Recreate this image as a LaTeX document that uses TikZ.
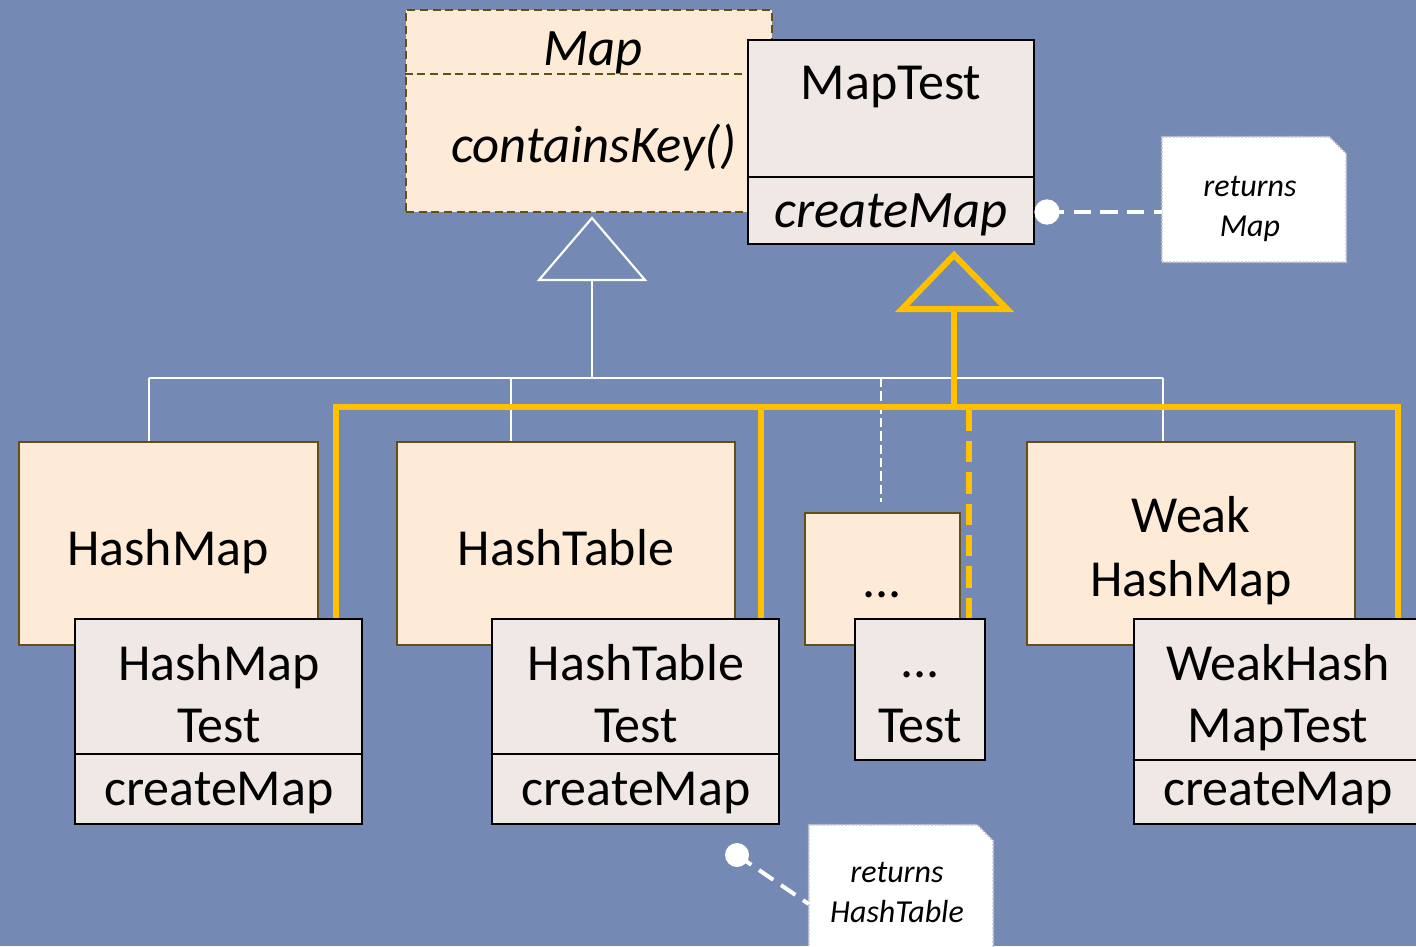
\documentclass[tikz,border=0pt]{standalone}
\usepackage{fontspec}
\setmainfont{Carlito}
\usetikzlibrary{fit,backgrounds}
\definecolor{bg}{RGB}{116,137,179}
\definecolor{beige}{RGB}{253,235,215}
\definecolor{brownb}{RGB}{100,80,20}
\definecolor{testfill}{RGB}{240,232,229}
\definecolor{uyellow}{RGB}{255,192,0}
\definecolor{notegray}{RGB}{190,192,200}
\begin{document}
\begin{tikzpicture}[x=0.75pt,y=-0.75pt,
  cls/.style={draw=brownb, fill=beige, line width=1.6pt, inner sep=0pt},
  tst/.style={draw=black, fill=testfill, line width=2pt, inner sep=0pt},
  big/.style={font=\fontsize{39}{47}\selectfont, inner sep=0pt, anchor=base},
  bigit/.style={font=\itshape\fontsize{39.5}{47}\selectfont, inner sep=0pt, anchor=base},
  ntxt/.style={font=\itshape\fontsize{24}{29}\selectfont, inner sep=0pt, anchor=base},
  wline/.style={draw=white, line width=1.6pt},
  yline/.style={draw=uyellow, line width=4.5pt},
  holder/.style={inner sep=0pt, draw=none},
  notebox/.style={draw=notegray, dash pattern=on 1.5pt off 1.2pt, line width=1.2pt, fill=white},
  notelink/.style={draw=white, line width=3pt, dash pattern=on 13pt off 7pt},
  dotend/.style={circle, fill=white, inner sep=0pt, minimum size=19pt},
  divline/.style={draw=black, line width=2pt},
]
\useasboundingbox (0,0) rectangle (1416,946);
\clip (0,0) rectangle (1416,946);
\begin{scope}[on background layer]
  \fill[bg] (0,0) rectangle (1416,946);
\end{scope}

% ---- interface Map ----
\node[cls, line width=1.8pt, dash pattern=on 6pt off 3.5pt, fit={(406,10) (772,212)}] (map) {};
\coordinate (mapdiv) at (0,74);
\draw[draw=brownb, line width=1.8pt, dash pattern=on 6pt off 3.5pt] (map.west |- mapdiv) -- (map.east |- mapdiv);
\node[bigit] (mapname) at (593,65) {Map};
\node[bigit] (mapop) at (594,162) {containsKey()};

% ---- MapTest ----
\node[tst, fit={(748,40) (1034,244)}] (mt) {};
\coordinate (mtdiv) at (0,177);
\draw[divline] (mt.west |- mtdiv) -- (mt.east |- mtdiv);
\node[big] (mtname) at (891,99) {MapTest};
\node[bigit] (mtop) at (891,227) {createMap};

% ---- implementation classes ----
\node[cls, fit={(19,442) (318,645)}] (hm) {};
\node[big] (hmname) at (168,565) {HashMap};
\node[cls, fit={(397,442) (735,645)}] (ht) {};
\node[big] (htname) at (566,565) {HashTable};
\node[cls, fit={(805,513) (960,645)}] (dc) {};
\node[big] (dcname) at (882,597) {...};
\node[cls, fit={(1027,442) (1355,645)}] (whm) {};
\node[big] (whmname1) at (1191,532) {Weak};
\node[big] (whmname2) at (1191,596) {HashMap};

% ---- test classes ----
\node[tst, fit={(75,619) (362,824)}] (hmt) {};
\coordinate (hmtdiv) at (0,754);
\draw[divline] (hmt.west |- hmtdiv) -- (hmt.east |- hmtdiv);
\node[big] (hmt1) at (219,680) {HashMap};
\node[big] (hmt2) at (219,742) {Test};
\node[big] (hmtop) at (219,805) {createMap};

\node[tst, fit={(492,619) (779,824)}] (htt) {};
\draw[divline] (htt.west |- hmtdiv) -- (htt.east |- hmtdiv);
\node[big] (htt1) at (636,680) {HashTable};
\node[big] (htt2) at (636,742) {Test};
\node[big] (httop) at (636,805) {createMap};

\node[tst, fit={(855,619) (985,760)}] (dt) {};
\node[big] (dt1) at (920,677) {...};
\node[big] (dt2) at (920,742) {Test};

\node[tst, fit={(1134,619) (1422,824)}] (wht) {};
\coordinate (whtdiv) at (0,760);
\draw[divline] (wht.west |- whtdiv) -- (wht.east |- whtdiv);
\node[big] (wht1) at (1278,680) {WeakHash};
\node[big] (wht2) at (1278,742) {MapTest};
\node[big] (whtop) at (1278,805) {createMap};

% ---- white inheritance tree (implements Map) ----
\coordinate (wtip) at (592,218);
\coordinate (wbl) at (539,280);
\coordinate (wbr) at (645,280);
\coordinate (wbase) at (592,280);
\coordinate (wj) at (592,378);
\coordinate (wL) at (149,378);
\coordinate (wR) at (1163,378);
\coordinate (wH) at (511,378);
\coordinate (wD) at (881,378);
\begin{scope}[on background layer]
  \draw[wline, line join=miter] (wtip) -- (wbr) -- (wbl) -- cycle;
  \draw[wline] (wbase) -- (wj);
  \draw[wline] (wL) -- (wR);
  \draw[wline] (wL) -- (wL |- hm.north);
  \draw[wline] (wH) -- (wH |- ht.north);
  \draw[wline, line width=1.3pt, dash pattern=on 7pt off 3pt] (wD) -- ([yshift=7.5pt]wD |- dc.north);
  \draw[wline] (wR) -- (wR |- whm.north);
\end{scope}

% ---- yellow inheritance tree (extends MapTest) ----
\coordinate (ytip) at (954,255);
\coordinate (ybl) at (902,309);
\coordinate (ybr) at (1007,309);
\coordinate (ybase) at (954,309);
\coordinate (yj) at (954,407);
\coordinate (yL) at (336,407);
\coordinate (yR) at (1398,407);
\coordinate (y2) at (761,407);
\coordinate (y3) at (969,407);
\begin{scope}[on background layer]
  \draw[yline, line join=miter] (ytip) -- (ybr) -- (ybl) -- cycle;
  \draw[yline] (ybase) -- (yj);
  \draw[yline, line join=miter] (yL |- hmt.north) -- (yL) -- (yR) -- (yR |- wht.north);
  \draw[yline] (y2) -- (y2 |- htt.north);
  \draw[yline, dash pattern=on 16pt off 7.5pt] ([yshift=-2pt]y3) -- (y3 |- dt.north);
\end{scope}

% ---- notes ----
\node[holder, fit={(1162,137) (1346,262)}] (n1) {};
\draw[notebox] (n1.north west) -- ([xshift=-12.75pt]n1.north east) -- ([yshift=-12.75pt]n1.north east) -- (n1.south east) -- (n1.south west) -- cycle;
\node[ntxt] (n1a) at (1250,196) {returns};
\node[ntxt] (n1b) at (1250,236) {Map};
\node[dotend] (dot1) at (1047,212) {};
\draw[notelink] (dot1.center) -- (dot1.center -| n1.west);

\node[holder, fit={(809,825) (993,975)}] (n2) {};
\draw[notebox] (n2.north west) -- ([xshift=-12pt]n2.north east) -- ([yshift=-12pt]n2.north east) -- (n2.south east) -- (n2.south west) -- cycle;
\node[ntxt] (n2a) at (897,882) {returns};
\node[ntxt] (n2b) at (897,922) {HashTable};
\node[dotend, minimum size=18pt] (dot2) at (737,855) {};
\draw[notelink] (dot2.center) -- ([yshift=-3pt]n2.west);
\end{tikzpicture}
\end{document}
